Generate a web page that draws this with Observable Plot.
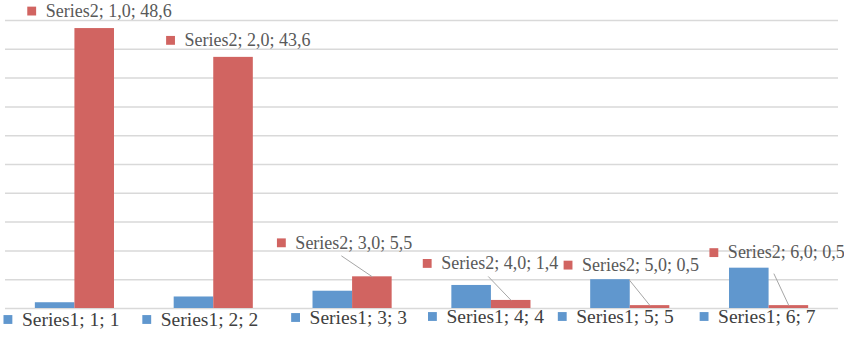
<!DOCTYPE html>
<html>
<head>
<meta charset="utf-8">
<script src="https://cdn.jsdelivr.net/npm/d3@7"></script>
<script src="https://cdn.jsdelivr.net/npm/@observablehq/plot@0.6"></script>
<style>
  html, body { margin: 0; padding: 0; background: #fff; }
  #chart svg { display: block; }
</style>
</head>
<body>
<div id="chart"></div>
<script>
// ---- data ----
const categories = [1, 2, 3, 4, 5, 6];
const series1 = [1, 2, 3, 4, 5, 7];
const series2 = [48.6, 43.6, 5.5, 1.4, 0.5, 0.5];
const yTicks = [0, 5, 10, 15, 20, 25, 30, 35, 40, 45, 50];

// ---- layout (pixels) ----
const W = 844, H = 340;
const M = {top: 20, right: 6, bottom: 32, left: 5};
const kx = (W - M.left - M.right) / categories.length; // px per category unit
const ky = (H - M.top - M.bottom) / 50;                 // px per value unit
const barW = 0.285;                                     // bar width in category units
// label-key square offsets (px) for Series1, relative to category centre / baseline
const s1Nudge = [[-67, 11], [-67, 11], [-57, 9], [-59, 8], [-68, 8], [-65, 8]];
// label-key square offsets (px) for Series2, relative to red bar top centre
const s2Nudge = [[-63, -17.5], [-63, -17], [-91, -34], [-84, -37], [-82, -40.5], [-75, -53]];
// leader-line start offsets (px) relative to red bar top centre (null = no leader)
const s2Leader = [null, null, [-31, -21], [-23, -24], [-21, -26], [-15, -32]];

const fmt = v => String(v).includes(".") ? String(v).replace(".", ",") : String(v);
const fmt1 = v => v.toFixed(1).replace(".", ",");

const bars = categories.flatMap((c, i) => [
  {cat: c, s: "Series1", v: series1[i], x1: c - barW, x2: c},
  {cat: c, s: "Series2", v: series2[i], x1: c, x2: c + barW}
]);

const labels1 = categories.map((c, i) => ({
  x: c + s1Nudge[i][0] / kx,
  y: -s1Nudge[i][1] / ky,
  text: `Series1; ${c}; ${fmt(series1[i])}`
}));
const labels2 = categories.map((c, i) => ({
  x: c + barW / 2 + s2Nudge[i][0] / kx,
  y: series2[i] - s2Nudge[i][1] / ky,
  text: `Series2; ${fmt1(c)}; ${fmt(series2[i])}`
}));
const leaders = categories.map((c, i) => s2Leader[i] && ({
  x1: c + barW / 2 + s2Leader[i][0] / kx,
  y1: series2[i] - s2Leader[i][1] / ky,
  x2: c + barW / 2,
  y2: series2[i]
})).filter(Boolean);

const colors = {Series1: "#6097ce", Series2: "#d16461"};
const font = "'Liberation Serif', serif";

const chart = Plot.plot({
  width: W, height: H,
  marginTop: M.top, marginRight: M.right, marginBottom: M.bottom, marginLeft: M.left,
  style: {background: "#fff", fontFamily: font},
  x: {type: "linear", domain: [0.5, 6.5], axis: null},
  y: {domain: [0, 50], axis: null},
  marks: [
    Plot.ruleY(yTicks, {stroke: "#d9d9d9", strokeWidth: 1.5}),
    Plot.rectY(bars, {x1: "x1", x2: "x2", y: "v", fill: d => colors[d.s]}),
    Plot.link(leaders, {x1: "x1", y1: "y1", x2: "x2", y2: "y2", stroke: "#a6a6a6", strokeWidth: 1}),
    Plot.dot(labels1, {x: "x", y: "y", symbol: "square", r: 5, fill: colors.Series1, stroke: null}),
    Plot.text(labels1, {x: "x", y: "y", text: "text", dx: 14, textAnchor: "start", fontSize: 19.5, fill: "#404040", fontFamily: font}),
    Plot.dot(labels2, {x: "x", y: "y", symbol: "square", r: 5, fill: colors.Series2, stroke: null}),
    Plot.text(labels2, {x: "x", y: "y", text: "text", dx: 14, textAnchor: "start", fontSize: 18, fill: "#595959", fontFamily: font})
  ]
});
document.getElementById("chart").appendChild(chart);
</script>
</body>
</html>
